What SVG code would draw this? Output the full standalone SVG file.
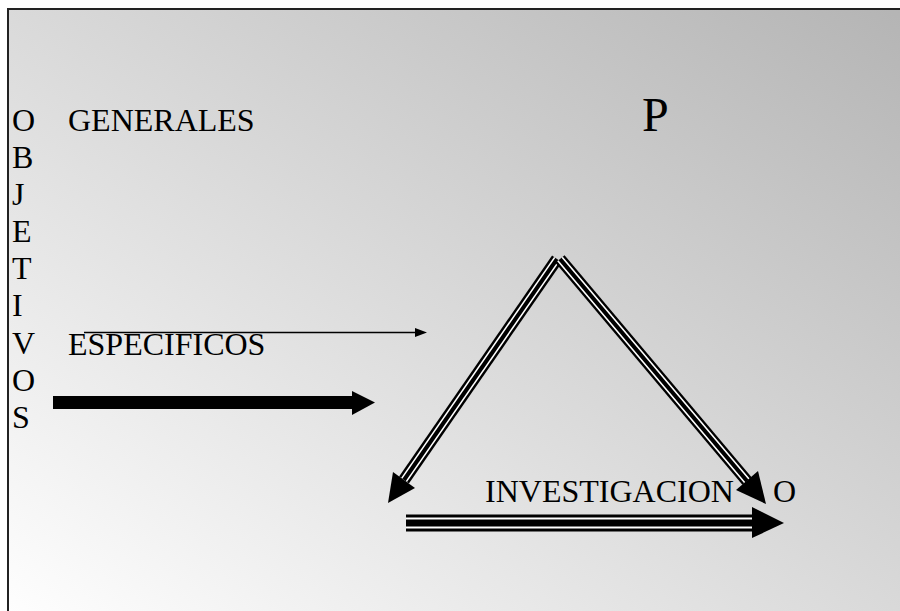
<svg xmlns="http://www.w3.org/2000/svg" width="900" height="611" viewBox="0 0 900 611">
<defs>
<linearGradient id="bg" x1="0" y1="1" x2="1" y2="0">
<stop offset="0" stop-color="#ffffff"/>
<stop offset="1" stop-color="#b4b4b4"/>
</linearGradient>
<style>
.t{font-family:"Liberation Serif","Times New Roman",serif;font-size:32px;fill:#000}
.big{font-size:48px}
.blk{stroke:#000;fill:none;stroke-linecap:butt}
.wht{stroke:#fff;fill:none;stroke-linecap:butt}
.head{fill:#000;stroke:none}
</style>
</defs>
<rect x="0" y="0" width="900" height="611" fill="#ffffff"/>
<rect id="frame" x="8" y="9" width="905" height="620" fill="url(#bg)" stroke="#222" stroke-width="2"/>
<g id="objetivos">
<text class="t" x="12" y="131">O</text>
<text class="t" x="12" y="168">B</text>
<text class="t" x="12" y="205">J</text>
<text class="t" x="12" y="242">E</text>
<text class="t" x="12" y="279">T</text>
<text class="t" x="12" y="316">I</text>
<text class="t" x="12" y="354">V</text>
<text class="t" x="12" y="391">O</text>
<text class="t" x="12" y="428">S</text>
</g>
<g id="generales"><text class="t" x="68" y="131">GENERALES</text></g>
<g id="especificos"><text class="t" x="68" y="355">ESPECIFICOS</text></g>
<g id="p"><text class="t big" x="642" y="131">P</text></g>
<g id="investigacion"><text class="t" x="485" y="502">INVESTIGACION</text></g>
<g id="o"><text class="t" x="773" y="502">O</text></g>
<g id="connectors">
<line class="blk" x1="84" y1="332.5" x2="416" y2="332.5" stroke-width="1.5"/>
<polygon class="head" points="415,328 427,332.5 415,337"/>
<rect x="53" y="396" width="300" height="13" fill="#000"/>
<polygon class="head" points="352,391 375,402.5 352,415"/>
<line class="blk" x1="557" y1="259" x2="404" y2="480" stroke-width="12"/>
<line class="wht" x1="559.3" y1="260.6" x2="406.3" y2="481.6" stroke-width="1.6"/>
<line class="wht" x1="554.7" y1="257.4" x2="401.7" y2="478.4" stroke-width="1.6"/>
<polygon class="head" points="388,503 415,488 393,472"/>
<line class="blk" x1="560" y1="259" x2="747" y2="481" stroke-width="12"/>
<line class="wht" x1="562.2" y1="257.2" x2="749.2" y2="479.2" stroke-width="1.6"/>
<line class="wht" x1="557.8" y1="260.8" x2="744.8" y2="482.8" stroke-width="1.6"/>
<polygon class="head" points="766,504 758,471 736,490"/>
<line class="blk" x1="406" y1="523" x2="753" y2="523" stroke-width="17"/>
<line class="wht" x1="406" y1="518.5" x2="753" y2="518.5" stroke-width="2"/>
<line class="wht" x1="406" y1="527.5" x2="753" y2="527.5" stroke-width="2"/>
<polygon class="head" points="752,507 784,523 752,538"/>
</g>
</svg>
